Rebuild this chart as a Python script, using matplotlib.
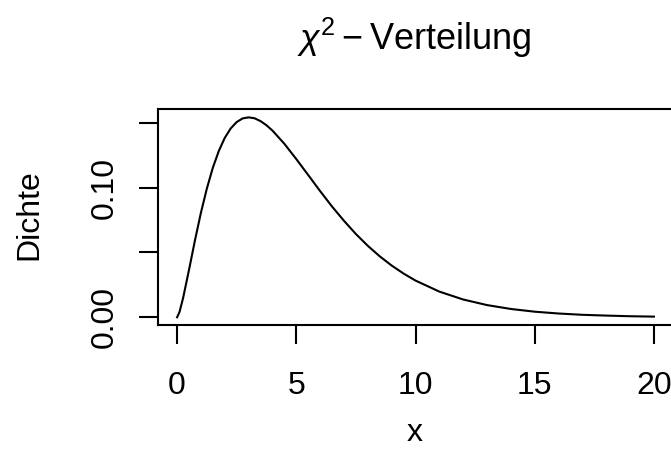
import numpy as np
import matplotlib
matplotlib.use("Agg")
import matplotlib.pyplot as plt

plt.rcParams["font.family"] = ["Liberation Sans", "DejaVu Sans"]
plt.rcParams["mathtext.fontset"] = "custom"
plt.rcParams["mathtext.rm"] = "Liberation Sans"
plt.rcParams["mathtext.it"] = "Liberation Sans:italic"

# ── Data (density) ────────────────────────────────────────────────────────────
x_vals = [0, 0.1, 0.25, 0.5, 0.75, 1, 1.25, 1.5, 1.75, 2, 2.25, 2.5, 2.75, 3,
          3.25, 3.5, 3.75, 4, 4.5, 5, 5.5, 6, 6.5, 7, 7.5, 8, 8.5, 9, 9.5, 10,
          11, 12, 13, 14, 15, 16, 17, 18, 19, 20]
dichte = [0.0, 0.0040, 0.0147, 0.0366, 0.0594, 0.0807, 0.0994, 0.1154, 0.1283,
          0.1384, 0.1457, 0.1506, 0.1534, 0.1542, 0.1535, 0.1513, 0.1481, 0.1440,
          0.1338, 0.1220, 0.1097, 0.0973, 0.0854, 0.0744, 0.0642, 0.0551, 0.0470,
          0.0399, 0.0337, 0.0283, 0.0198, 0.0137, 0.0094, 0.0064, 0.0043, 0.0029,
          0.0019, 0.0013, 0.0008, 0.0005]
x_ticks = [0, 5, 10, 15, 20]
y_ticks = [0.00, 0.05, 0.10, 0.15]
y_ticklabels = ["0.00", "", "0.10", ""]

FS = 23
LW = 1.5

fig = plt.figure(figsize=(6.71, 4.68), dpi=100)
ax = fig.add_axes([0.2355, 0.3049, 0.7675, 0.4615])

ax.plot(x_vals, dichte, color="black", lw=LW)
ax.set_xlim(-0.8, 20.8)
ax.set_ylim(-0.0062, 0.1604)

ax.set_xticks(x_ticks)
ax.set_xticklabels([str(t) for t in x_ticks])
ax.set_yticks(y_ticks)
ax.set_yticklabels(y_ticklabels)
ax.tick_params(axis="both", direction="out", length=13.7, width=LW,
               labelsize=FS, color="black")
ax.tick_params(axis="x", pad=19)
ax.tick_params(axis="y", pad=14, labelrotation=90)
for lab in ax.get_yticklabels():
    lab.set_va("center")
for sp in ax.spines.values():
    sp.set_linewidth(LW)

fig.text(414 / 671, 1 - 50 / 468, r"$\chi^2 - \mathrm{Verteilung}$",
         ha="center", va="baseline", fontsize=26)
fig.text(415 / 671, 1 - 433 / 468, "x", ha="center", va="center", fontsize=FS)
fig.text(29 / 671, 1 - 215 / 468, "Dichte", ha="center", va="center",
         rotation=90, fontsize=FS)

fig.savefig("out.png", dpi=100)
